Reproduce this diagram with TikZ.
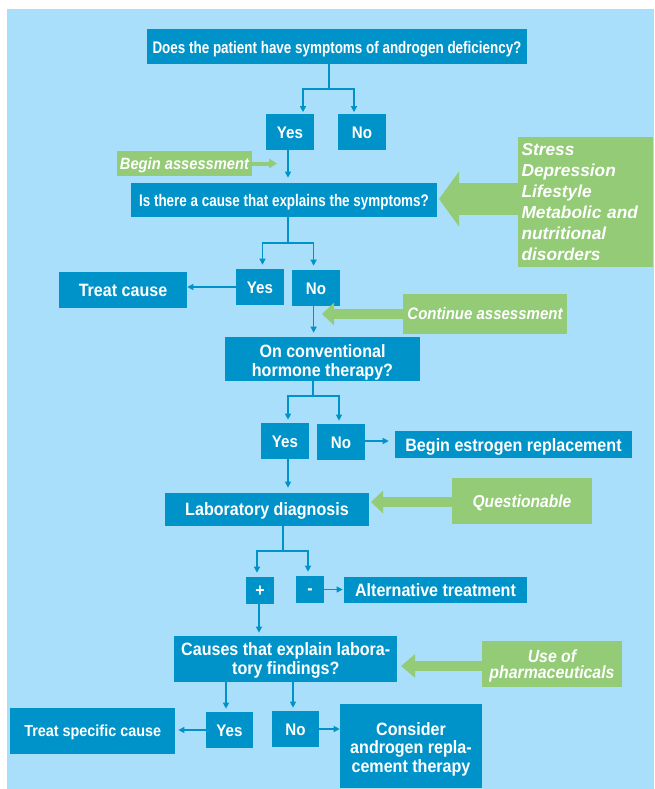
\documentclass[tikz,border=0pt]{standalone}
\usepackage{fontspec}
\setmainfont{Liberation Sans}[FakeStretch=0.9]
\newfontfamily\qfont{Liberation Sans}[FakeStretch=0.8]
\newfontfamily\wfont{Liberation Sans}
\usetikzlibrary{arrows.meta}
\definecolor{bgblue}{RGB}{169,223,250}
\definecolor{boxblue}{RGB}{0,147,201}
\definecolor{grn}{RGB}{147,203,118}
\tikzset{
  box/.style={fill=boxblue, text=white, inner sep=0pt, align=center,
    font=\bfseries\fontsize{13.4}{14.2}\selectfont},
  one/.style={text height=#1, text depth=0pt},
  yn/.style={box, one=9pt, minimum width=36pt, minimum height=27pt,
    font=\bfseries\fontsize{12.6}{14}\selectfont},
  qbox/.style={box, font=\qfont\bfseries\fontsize{12.6}{14}\selectfont},
  gbox/.style={fill=grn, text=white, inner sep=0pt, align=center},
  line/.style={draw=boxblue, line width=0.9pt},
  conn/.style={line, shorten >=2.3pt, -{Triangle[length=4.5pt,width=4.5pt]}},
}
\begin{document}
\begin{tikzpicture}[x=0.75pt,y=-0.75pt]
\useasboundingbox (0,0) rectangle (654,789);
\fill[bgblue] (7,9) rectangle (654,789);

% nodes
\node[qbox, one=10.8pt, minimum width=285pt, minimum height=26.25pt] (q1) at (337,46.5)
  {Does the patient have symptoms of androgen deficiency?};
\node[yn] (yes1) at (290,132) {Yes};
\node[yn] (no1) at (362,132) {No};
\node[gbox, one=8.8pt, minimum width=101.25pt, minimum height=18.75pt,
  font=\bfseries\itshape\fontsize{12.25}{14}\selectfont] (begin) at (184.5,163.5) {Begin assessment};
\node[qbox, one=9.4pt, minimum width=229.5pt, minimum height=25.5pt] (q2) at (284,200)
  {Is there a cause that explains the symptoms?};
\node[gbox, minimum width=101.25pt, minimum height=97.5pt, text width=96pt, align=left,
  font=\wfont\bfseries\itshape\fontsize{13}{15.8}\selectfont] (stress) at (585.5,202)
  {Stress\\Depression\\Lifestyle\\Metabolic and\\nutritional\\disorders};
\node[yn] (yes2) at (260,287) {Yes};
\node[yn] (no2) at (316,288) {No};
\node[box, one=9.6pt, minimum width=96pt, minimum height=27pt] (treatcause) at (123,290) {Treat cause};
\node[gbox, one=8.95pt, minimum width=123pt, minimum height=30pt,
  font=\bfseries\itshape\fontsize{12.5}{14}\selectfont] (cont) at (485,314) {Continue assessment};
\node[box, minimum width=146.25pt, minimum height=33pt] (q3) at (322.5,359)
  {\rule{0pt}{14.3pt}On conventional\\hormone therapy?};
\node[yn] (yes3) at (285,441) {Yes};
\node[yn] (no3) at (341,442) {No};
\node[box, one=10.6pt, minimum width=177.75pt, minimum height=20.25pt] (estro) at (513.5,444.5)
  {Begin estrogen replacement};
\node[box, one=9.6pt, minimum width=153pt, minimum height=24.75pt] (lab) at (267,509.5)
  {Laboratory diagnosis};
\node[gbox, one=9.3pt, minimum width=105pt, minimum height=34.5pt,
  font=\bfseries\itshape\fontsize{13}{14}\selectfont] (quest) at (522,501) {Questionable};
\node[box, one=9.6pt, minimum width=21pt, minimum height=20.25pt] (plus) at (260,590.5) {+};
\node[box, one=7pt, minimum width=21pt, minimum height=20.25pt] (minus) at (310,589.5) {-};
\node[box, one=9.6pt, minimum width=137.25pt, minimum height=19.5pt] (alt) at (435.5,590)
  {Alternative treatment};
\node[box, minimum width=167.6pt, minimum height=34.5pt] (q5) at (285.75,659)
  {\rule{0pt}{12.5pt}Causes that explain labora-\\tory findings?};
\node[gbox, minimum width=104.6pt, minimum height=34.5pt,
  font=\bfseries\itshape\fontsize{13.2}{12.2}\selectfont] (useof) at (552,664)
  {\rule{0pt}{13pt}Use of\\pharmaceuticals};
\node[yn, minimum width=35.25pt] (yes5) at (229.5,730) {Yes};
\node[yn, minimum width=35.25pt] (no5) at (295.5,729) {No};
\node[box, one=8.6pt, minimum width=123.45pt, minimum height=34.5pt,
  font=\bfseries\fontsize{12}{14}\selectfont] (treatspec) at (92.7,731) {Treat specific cause};
\node[box, minimum width=106.5pt, minimum height=63pt,
  font=\bfseries\fontsize{13.4}{13.9}\selectfont] (consider) at (411,746)
  {\rule{0pt}{14.2pt}Consider\\androgen repla-\\cement therapy};

% blue connectors
\draw[line] (q1.south -| 329,0) -- (329,89) coordinate (b1);
\draw[conn, shorten >=1.2pt] (b1) -| (yes1.north -| 303,0);
\draw[conn, shorten >=1.2pt] (b1) -| (no1.north -| 354,0);
\draw[conn, shorten >=3.8pt] (yes1.south -| 288,0) -- (q2.north -| 288,0);

\draw[line] (q2.south -| 288,0) -- (288,243) coordinate (b2);
\draw[conn, shorten >=3pt] (b2) -| (yes2.north -| 262.5,0);
\draw[conn, shorten >=3pt] (b2) -| (no2.north -| 313.6,0);
\draw[conn, shorten >=0pt] (yes2.west) -- (yes2.west -| treatcause.east);
\draw[conn, shorten >=3pt] (no2.south -| 313.6,0) -- (q3.north -| 313.6,0);

\draw[line] (q3.south -| 313,0) -- (313,396) coordinate (b3);
\draw[conn] (b3) -| (yes3.north -| 288,0);
\draw[conn] (b3) -| (no3.north -| 339,0);
\draw[conn, shorten >=4.5pt] (no3.east |- 0,441) -- (estro.west |- 0,441);
\draw[conn, shorten >=3.8pt] (yes3.south -| 288,0) -- (lab.north -| 288,0);

\draw[line] (lab.south -| 283,0) -- (283,551) coordinate (b4);
\draw[conn, shorten >=3pt] (b4) -| (plus.north -| 257,0);
\draw[conn, shorten >=3pt] (b4) -| (minus.north -| 308,0);
\draw[conn, shorten >=0.8pt] (minus.east) -- (minus.east -| alt.west);
\draw[conn] (plus.south -| 259,0) -- (q5.north -| 259,0);

\draw[conn] (q5.south -| 226,0) -- (yes5.north -| 226,0);
\draw[conn] (q5.south -| 293,0) -- (no5.north -| 293,0);
\draw[conn] (yes5.west) -- (yes5.west -| treatspec.east);
\draw[conn, shorten >=0pt] (no5.east) -- (no5.east -| consider.west);

% green arrows
\coordinate (tipbegin) at (277,163.5);
\draw[draw=grn, line width=3pt, -{Triangle[length=6pt,width=7pt]}] (begin.east) -- (tipbegin);
\coordinate (tipstress) at (439,199);
\draw[draw=grn, line width=24pt, -{Triangle[length=15pt,width=40.5pt]}] (stress.west |- tipstress) -- (tipstress);
\coordinate (tipcont) at (322,314);
\draw[draw=grn, line width=8pt, -{Triangle[length=9pt,width=16.5pt]}] (cont.west |- tipcont) -- (tipcont);
\coordinate (tipquest) at (371,502);
\draw[draw=grn, line width=7.8pt, -{Triangle[length=9pt,width=16.5pt]}] (quest.west |- tipquest) -- (tipquest);
\coordinate (tipuse) at (401,666);
\draw[draw=grn, line width=7.8pt, -{Triangle[length=10.5pt,width=17pt]}] (useof.west |- tipuse) -- (tipuse);
\end{tikzpicture}
\end{document}
